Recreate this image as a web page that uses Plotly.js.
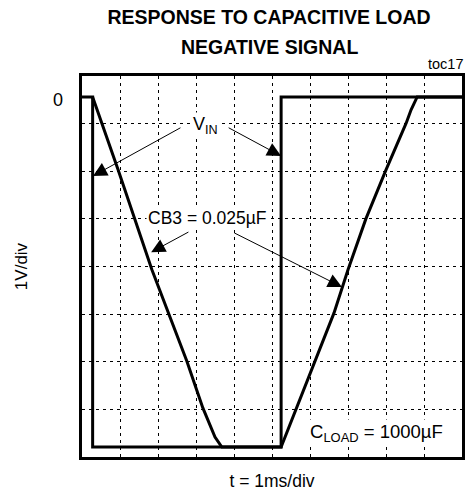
<!DOCTYPE html>
<html><head><meta charset="utf-8">
<script src="https://cdn.plot.ly/plotly-3.0.1.min.js"></script>
<style>html,body{margin:0;padding:0;background:#fff}#chart{width:465px;height:501px}</style>
</head><body><div id="chart"></div>
<script>
// time in ms (1 ms/div), voltage in V (1 V/div)
var vinT = [0, 0.28, 0.28, 5.24, 5.24, 10];
var vinV = [0, 0, -7.35, -7.35, 0, 0];
var outT = [0.28, 0.95, 1.84, 2.76, 3.18, 3.50, 3.68, 5.24, 6.63, 7.0, 7.47, 8.0, 8.53, 8.66, 8.82, 10];
var outV = [0, -1.53, -3.63, -5.55, -6.53, -7.14, -7.35, -7.35, -4.54, -3.63, -2.56, -1.53, -0.55, -0.27, 0, 0];
var yGrid = [-6.56, -5.56, -4.56, -3.56, -2.56, -1.56, -0.56];
var xGrid = [1, 2, 3, 4, 5, 6, 7, 8, 9];
var titleLines = ['RESPONSE TO CAPACITIVE LOAD', 'NEGATIVE SIGNAL'];

var font = "'Liberation Sans', Arial, sans-serif";
var traces = [
  {x: vinT, y: vinV, mode: 'lines', line: {color: '#000', width: 3}, hoverinfo: 'skip', name: 'VIN'},
  {x: outT, y: outV, mode: 'lines', line: {color: '#000', width: 3}, hoverinfo: 'skip', name: 'OUT'}
];
function arrow(hx, hy, tx, ty) {
  return {x: hx, y: hy, ax: tx, ay: ty, xref: 'x', yref: 'y', axref: 'x', ayref: 'y',
    text: '', showarrow: true, arrowhead: 2, arrowsize: 2.8, arrowwidth: 1, arrowcolor: '#000',
    standoff: 0, startstandoff: 0};
}
function label(x, y, txt, size) {
  return {x: x, y: y, xref: 'x', yref: 'y', text: txt, showarrow: false, bgcolor: '#fff',
    borderpad: 1, font: {size: size, color: '#000'}};
}
var layout = {
  width: 465, height: 501,
  margin: {l: 82, r: 3, t: 76, b: 44},
  paper_bgcolor: '#fff', plot_bgcolor: '#fff',
  showlegend: false,
  font: {family: font, color: '#000', size: 15},
  title: {text: '<b>' + titleLines[0] + '</b>', x: 269 / 465, xanchor: 'center', xref: 'container',
    yref: 'container', y: 1 - 17 / 501, yanchor: 'middle',
    font: {family: font, size: 19.5, color: '#000'}},
  xaxis: {range: [0, 10], tickvals: xGrid, showticklabels: false, ticks: '',
    showgrid: true, gridcolor: '#000', gridwidth: 1, griddash: '3px,4px',
    showline: true, mirror: true, linecolor: '#000', linewidth: 3, zeroline: false, fixedrange: true,
    title: {text: 't = 1ms/div', standoff: 16, font: {family: font, size: 17.5}}},
  yaxis: {range: [-7.56, 0.44], tickvals: yGrid, showticklabels: false, ticks: '',
    showgrid: true, gridcolor: '#000', gridwidth: 1, griddash: '3px,4px',
    showline: true, mirror: true, linecolor: '#000', linewidth: 3, zeroline: false, fixedrange: true,
    title: {text: '1V/div', standoff: 48, font: {family: font, size: 17}}},
  annotations: [
    {x: (269 - 82) / 380, y: (457 - 46.5) / 381, xref: 'paper', yref: 'paper', text: '<b>' + titleLines[1] + '</b>',
      showarrow: false, xanchor: 'center', yanchor: 'middle', font: {size: 19.5}},
    {x: 0, y: 0, xref: 'paper', yref: 'y', text: '0', showarrow: false, xanchor: 'right', xshift: -17, yshift: -3, font: {size: 18}},
    {x: 1, y: 1.0315, xref: 'paper', yref: 'paper', text: 'toc17', showarrow: false, xanchor: 'right', yanchor: 'middle', xshift: 3, font: {size: 14.5}},
    arrow(0.29, -1.66, 2.63, -0.63),
    arrow(5.24, -1.24, 3.82, -0.63),
    arrow(1.82, -3.26, 2.84, -2.82),
    arrow(6.84, -3.99, 3.97, -2.84),
    label(3.24, -0.59, 'V<sub>IN</sub>', 18),
    label(3.29, -2.54, 'CB3 = 0.025µF', 17.5),
    label(7.76, -7.06, 'C<sub>LOAD</sub> = 1000µF', 18.5)
  ]
};
Plotly.newPlot('chart', traces, layout, {staticPlot: true, displayModeBar: false});
</script></body></html>
